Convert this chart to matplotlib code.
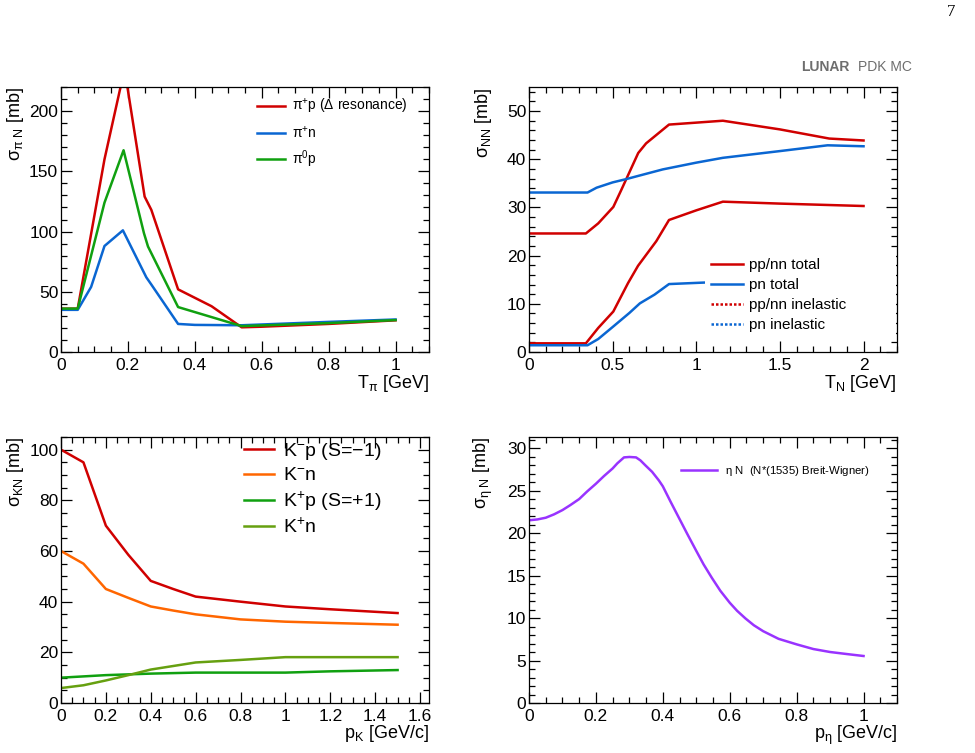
import matplotlib
matplotlib.use("Agg")
import matplotlib.pyplot as plt
from matplotlib.ticker import MultipleLocator, FuncFormatter
from matplotlib.lines import Line2D

plt.rcParams['font.family'] = ['Liberation Sans', 'DejaVu Sans']
plt.rcParams['mathtext.fontset'] = 'custom'
plt.rcParams['mathtext.rm'] = 'Liberation Sans'
plt.rcParams['mathtext.it'] = 'Liberation Sans'
plt.rcParams['mathtext.default'] = 'regular'

RED = '#d00000'
BLUE = '#0a66d2'
GREEN = '#10a010'
ORANGE = '#ff6600'
OLIVE = '#66a010'
PURPLE = '#9933ff'

# pi N
pip_x = [0, 0.05, 0.13, 0.19, 0.25, 0.27, 0.35, 0.45, 0.54, 0.6, 0.8, 1.0]
pip_y = [36, 36, 160, 235, 129, 118, 52, 38, 20.5, 21.0, 23.3, 26.3]
pin_x = [0, 0.05, 0.09, 0.13, 0.185, 0.255, 0.27, 0.35, 0.4, 0.54, 0.8, 1.0]
pin_y = [35, 35, 54, 88, 101, 62, 56, 23.3, 22.5, 22.2, 25.0, 27.0]
pi0p_x = [0, 0.05, 0.13, 0.187, 0.248, 0.26, 0.35, 0.54, 0.8, 1.0]
pi0p_y = [36, 36, 124, 167.5, 98.6, 87.6, 37.3, 21.5, 24.0, 26.5]

# N N
pptot_x = [0, 0.34, 0.414, 0.504, 0.55, 0.653, 0.7, 0.837, 1.159, 1.5, 1.795, 2.0]
pptot_y = [24.6, 24.6, 26.7, 30.1, 33.5, 41.3, 43.3, 47.2, 48.0, 46.2, 44.3, 43.9]
pntot_x = [0, 0.35, 0.404, 0.5, 0.583, 0.653, 0.8, 1.0, 1.159, 1.5, 1.785, 2.0]
pntot_y = [33.1, 33.1, 34.1, 35.2, 35.9, 36.55, 37.9, 39.3, 40.3, 41.7, 42.9, 42.7]
ppin_x = [0, 0.34, 0.414, 0.504, 0.592, 0.652, 0.761, 0.837, 1.0, 1.159, 1.5, 2.0]
ppin_y = [1.8, 1.8, 5.0, 8.4, 14.3, 17.9, 23.0, 27.4, 29.4, 31.2, 30.8, 30.3]
pnin_x = [0, 0.35, 0.414, 0.504, 0.6, 0.663, 0.75, 0.837, 1.04, 1.2, 1.5, 2.0]
pnin_y = [1.4, 1.4, 2.7, 5.3, 8.1, 10.1, 11.9, 14.1, 14.4, 14.6, 15.0, 15.5]

# K N
k_x = [0, 0.1, 0.2, 0.3, 0.4, 0.5, 0.6, 0.8, 1.0, 1.2, 1.5]
kmp_y = [100, 95, 70, 58.5, 48.2, 45.0, 42.0, 40.0, 38.1, 37.0, 35.5]
kmn_y = [60, 55, 45, 41.5, 38.1, 36.5, 35.0, 33.0, 32.1, 31.6, 30.9]
kpp_y = [10, 10.5, 11.0, 11.3, 11.6, 11.8, 12.0, 12.0, 12.0, 12.5, 13.0]
kpn_y = [5.9, 7.0, 8.9, 11.0, 13.2, 14.6, 16.0, 17.0, 18.1, 18.1, 18.1]

# eta N
eta_x = [0, 0.025, 0.05, 0.075, 0.1, 0.124, 0.15, 0.174, 0.2, 0.224, 0.25, 0.264,
         0.284, 0.3, 0.32, 0.333, 0.348, 0.368, 0.388, 0.4, 0.423, 0.448, 0.473,
         0.5, 0.522, 0.547, 0.572, 0.6, 0.622, 0.647, 0.672, 0.7, 0.746, 0.8,
         0.85, 0.9, 0.95, 1.0]
eta_y = [21.5, 21.6, 21.8, 22.2, 22.7, 23.3, 24.0, 24.9, 25.8, 26.7, 27.6, 28.2,
         28.9, 28.95, 28.9, 28.55, 27.96, 27.2, 26.2, 25.5, 23.7, 21.8, 19.9,
         17.9, 16.3, 14.7, 13.2, 11.8, 10.85, 9.95, 9.15, 8.45, 7.55, 6.9,
         6.35, 6.0, 5.76, 5.53]

fig = plt.figure(figsize=(9.75, 7.53), dpi=100)

W, H = 975.0, 753.0
def axes_px(left, top, right, bottom):
    return fig.add_axes([left / W, 1 - bottom / H, (right - left) / W, (bottom - top) / H])

fmt = FuncFormatter(lambda v, p: '%g' % round(v, 6))

def style(ax, xlim, ylim, xmaj, xmin, ymaj, ymin, xlabel, ylabel, xl_off=-0.117):
    ax.set_xlim(*xlim)
    ax.set_ylim(*ylim)
    ax.xaxis.set_major_locator(MultipleLocator(xmaj))
    ax.xaxis.set_minor_locator(MultipleLocator(xmin))
    ax.yaxis.set_major_locator(MultipleLocator(ymaj))
    ax.yaxis.set_minor_locator(MultipleLocator(ymin))
    ax.xaxis.set_major_formatter(fmt)
    ax.yaxis.set_major_formatter(fmt)
    ax.tick_params(which='both', direction='in', top=True, right=True, labelsize=12.5, width=0.9)
    ax.tick_params(which='major', length=8)
    ax.tick_params(which='minor', length=4)
    ax.tick_params(axis='y', pad=2)
    ax.tick_params(axis='x', pad=4)
    for s in ax.spines.values():
        s.set_linewidth(0.9)
    ax.text(1.0, xl_off, xlabel, transform=ax.transAxes, ha='right', va='center', fontsize=13)
    ax.text(-0.125, 1.0, ylabel, transform=ax.transAxes, ha='center', va='top', rotation=90, fontsize=13)

LW = 1.8

# panel 1
ax1 = axes_px(61, 87, 429, 352)
ax1.plot(pip_x, pip_y, color=RED, lw=LW, label=r'$\pi^{+}$p ($\Delta$ resonance)')
ax1.plot(pin_x, pin_y, color=BLUE, lw=LW, label=r'$\pi^{+}$n')
ax1.plot(pi0p_x, pi0p_y, color=GREEN, lw=LW, label=r'$\pi^{0}$p')
style(ax1, (0, 1.1), (0, 220), 0.2, 0.05, 50, 10, r'T$_{\pi}$ [GeV]', r'$\sigma_{\pi\ N}$ [mb]')
ax1.legend(loc='upper left', bbox_to_anchor=(0.533, 0.962), frameon=False, fontsize=10,
           handlelength=2.0, handletextpad=0.5, labelspacing=0.6, borderpad=0, borderaxespad=0)

# panel 2
ax2 = axes_px(529, 87, 897, 352)
ax2.plot(pptot_x, pptot_y, color=RED, lw=LW)
ax2.plot(pntot_x, pntot_y, color=BLUE, lw=LW)
ax2.plot(ppin_x, ppin_y, color=RED, lw=LW)
ax2.plot(pnin_x, pnin_y, color=BLUE, lw=LW)
style(ax2, (0, 2.2), (0, 55), 0.5, 0.1, 10, 2, r'T$_{N}$ [GeV]', r'$\sigma_{NN}$ [mb]')
handles2 = [Line2D([], [], color=RED, lw=LW), Line2D([], [], color=BLUE, lw=LW),
            Line2D([], [], color=RED, lw=LW, ls=(0, (1, 0.8))),
            Line2D([], [], color=BLUE, lw=LW, ls=(0, (1, 0.8)))]
ax2.legend(handles2, ['pp/nn total', 'pn total', 'pp/nn inelastic', 'pn inelastic'],
           loc='upper left', bbox_to_anchor=(0.478, 0.0, 0.52, 0.378), mode='expand',
           frameon=True, fancybox=False, facecolor='white', edgecolor='none', framealpha=1,
           fontsize=11, handlelength=2.1, handletextpad=0.4, labelspacing=0.4,
           borderpad=0.4, borderaxespad=0)

# panel 3
ax3 = axes_px(61, 437, 429, 703)
ax3.plot(k_x, kmp_y, color=RED, lw=LW, label=r'K$^{-}$p (S=$-$1)')
ax3.plot(k_x, kmn_y, color=ORANGE, lw=LW, label=r'K$^{-}$n')
ax3.plot(k_x, kpp_y, color=GREEN, lw=LW, label=r'K$^{+}$p (S=+1)')
ax3.plot(k_x, kpn_y, color=OLIVE, lw=LW, label=r'K$^{+}$n')
style(ax3, (0, 1.64), (0, 105), 0.2, 0.05, 20, 5, r'p$_{K}$ [GeV/c]', r'$\sigma_{KN}$ [mb]', xl_off=-0.115)
ax3.legend(loc='upper left', bbox_to_anchor=(0.497, 0.985), frameon=False, fontsize=14,
           handlelength=1.55, handletextpad=0.45, labelspacing=0.25, borderpad=0, borderaxespad=0)

# panel 4
ax4 = axes_px(529, 437, 897, 703)
ax4.plot(eta_x, eta_y, color=PURPLE, lw=LW, label=r'$\eta$ N  (N*(1535) Breit-Wigner)')
style(ax4, (0, 1.1), (0, 31.3), 0.2, 0.05, 5, 1, r'p$_{\eta}$ [GeV/c]', r'$\sigma_{\eta\ N}$ [mb]', xl_off=-0.12)
ax4.legend(loc='upper left', bbox_to_anchor=(0.413, 0.9), frameon=False, fontsize=8.2,
           handlelength=3.2, handletextpad=0.7, borderpad=0, borderaxespad=0)

fig.text(849 / W, 1 - 67 / H, 'LUNAR', ha='right', va='center', fontsize=10, fontweight='bold', color='#6e6e6e')
fig.text(912 / W, 1 - 67 / H, 'PDK MC', ha='right', va='center', fontsize=10, color='#6e6e6e')
fig.text(955 / W, 1 - 12 / H, '7', ha='right', va='center', fontsize=12, family='Liberation Serif')

fig.savefig('out.png', dpi=100)
